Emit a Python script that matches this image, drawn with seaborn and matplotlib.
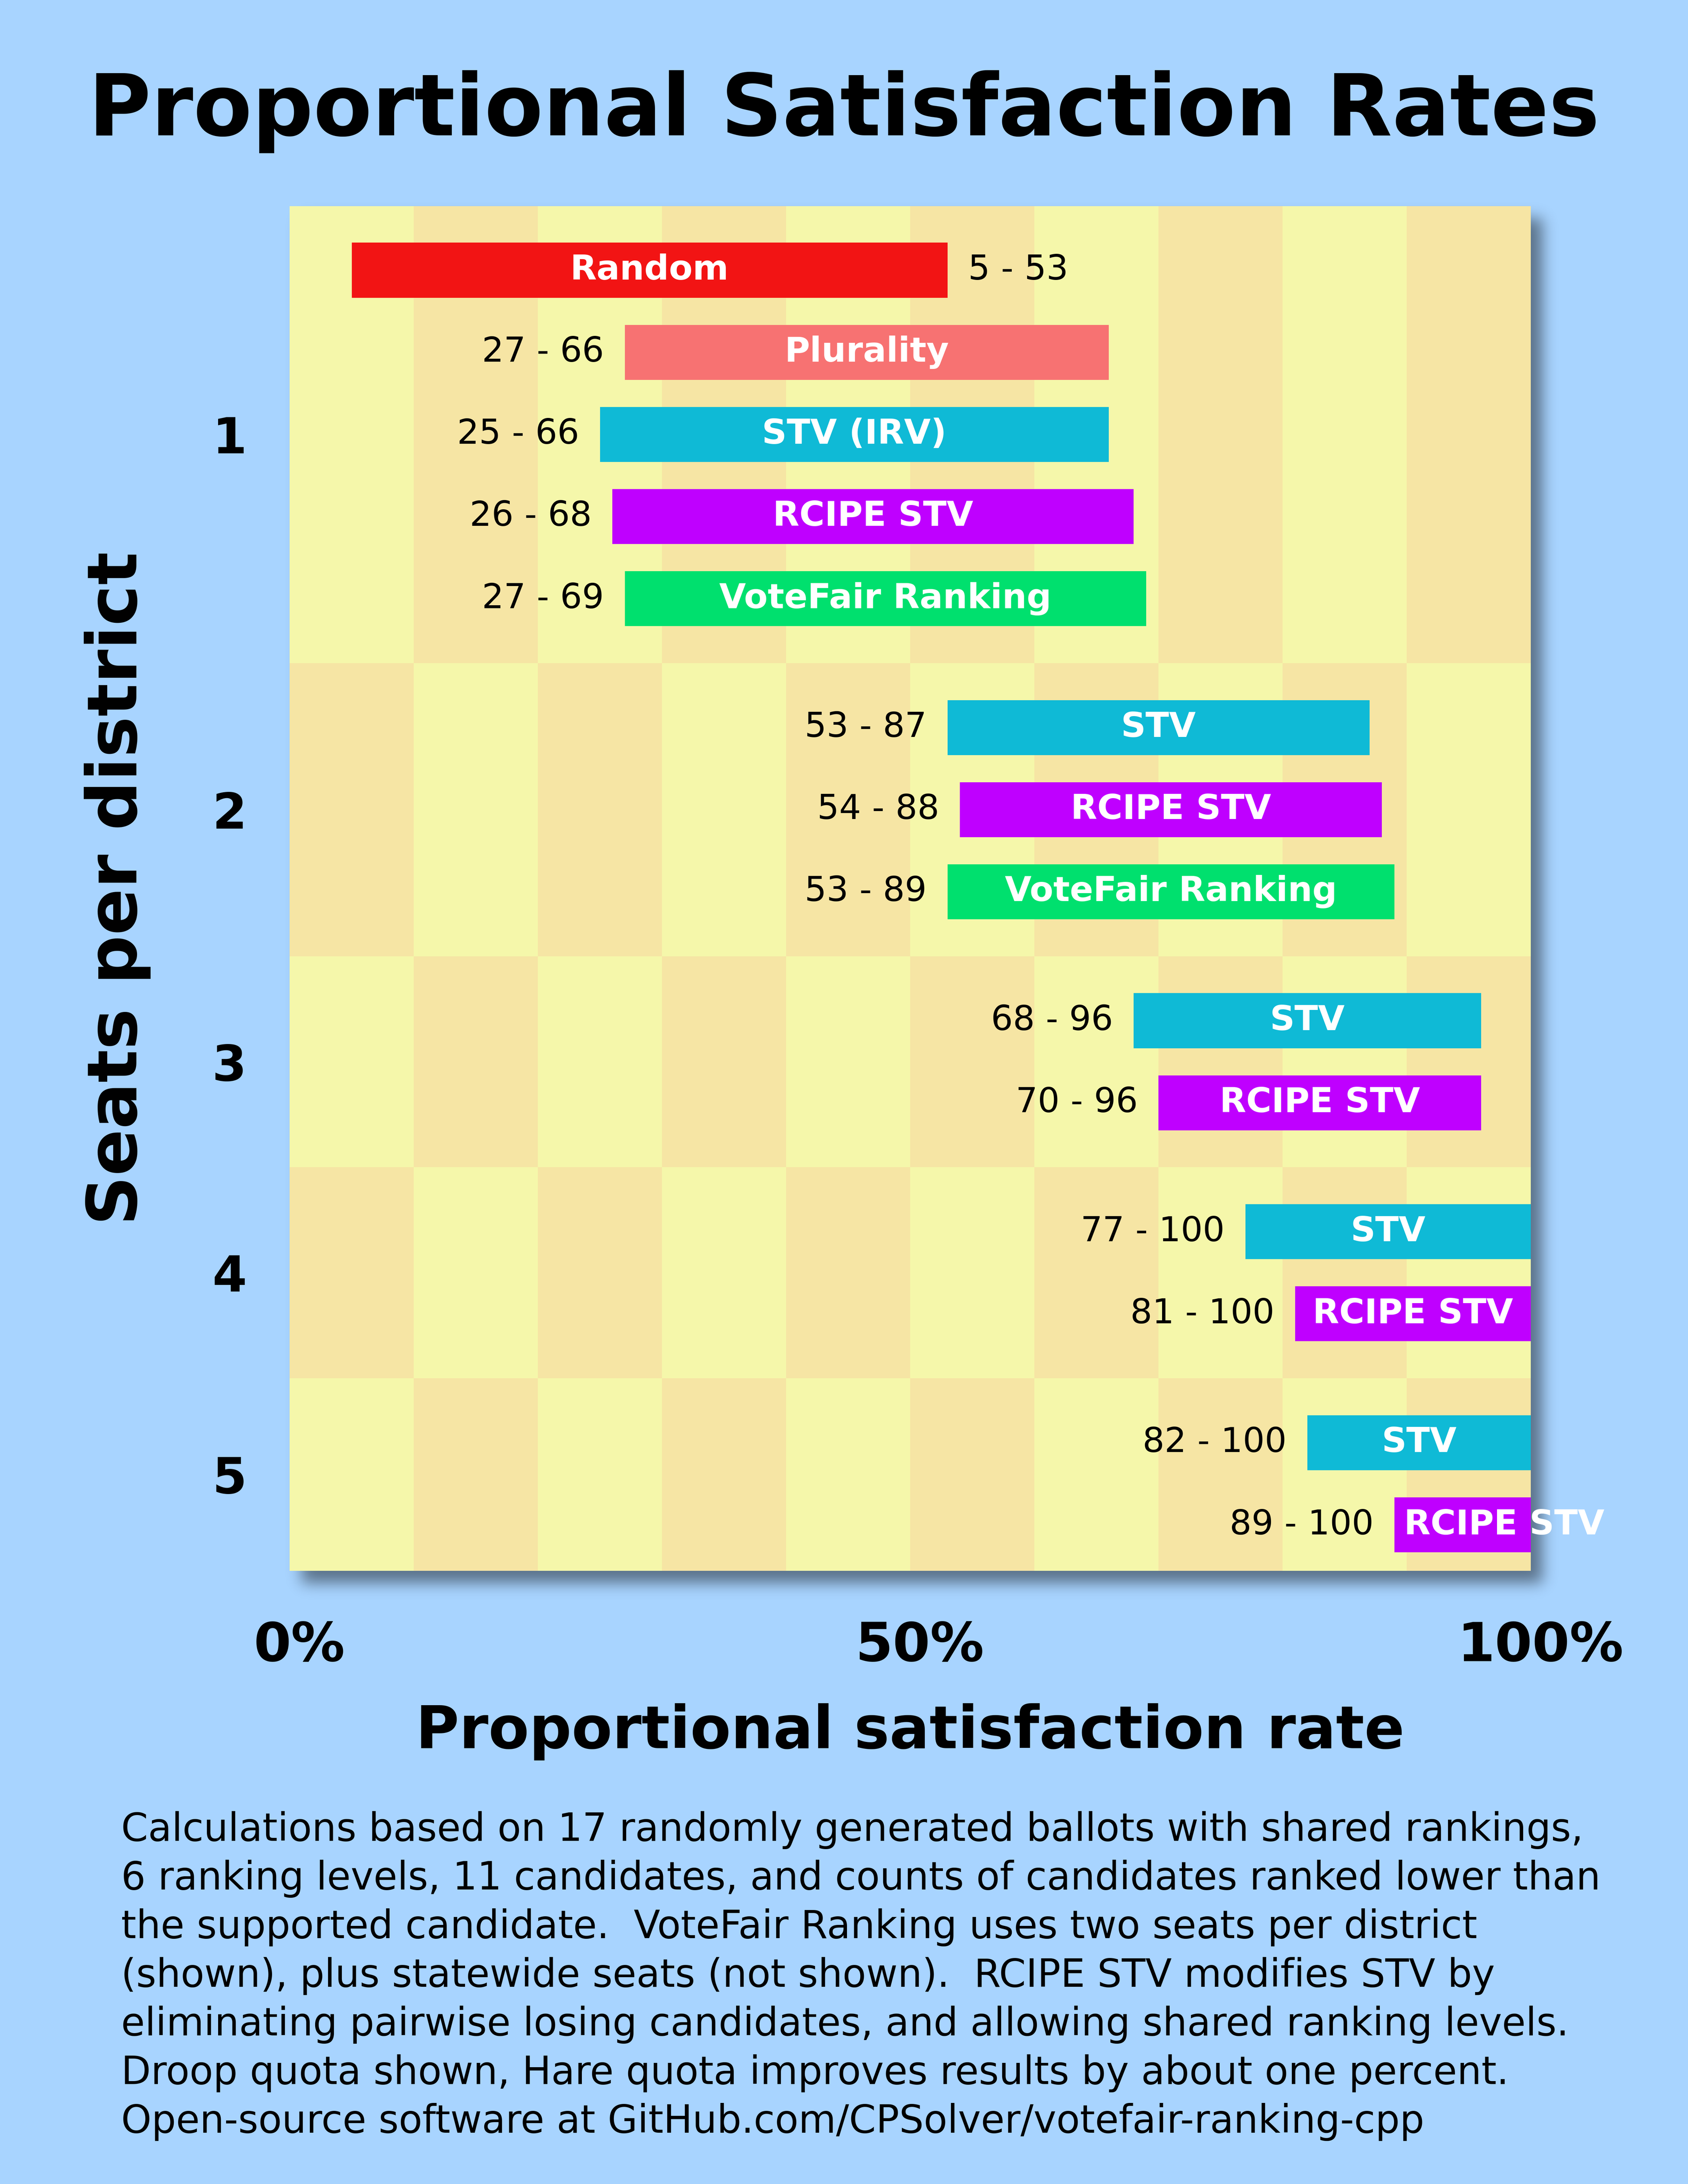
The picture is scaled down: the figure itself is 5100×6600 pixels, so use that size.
import numpy as np
import pandas as pd
import seaborn as sns
import matplotlib.pyplot as plt
from matplotlib.colors import ListedColormap
from matplotlib.transforms import ScaledTranslation

# values
seats = [1, 1, 1, 1, 1, 2, 2, 2, 3, 3, 4, 4, 5, 5]
methods = ["Random", "Plurality", "STV (IRV)", "RCIPE STV", "VoteFair Ranking",
           "STV", "RCIPE STV", "VoteFair Ranking",
           "STV", "RCIPE STV",
           "STV", "RCIPE STV",
           "STV", "RCIPE STV"]
low = [5, 27, 25, 26, 27, 53, 54, 53, 68, 70, 77, 81, 82, 89]
high = [53, 66, 66, 68, 69, 87, 88, 89, 96, 96, 100, 100, 100, 100]

seat_labels = ["1", "2", "3", "4", "5"]
x_ticks = [0, 50, 100]
x_tick_labels = ["0%", "50%", "100%"]

method_colors = {
    "Random": "#F21414",
    "Plurality": "#F77272",
    "STV (IRV)": "#0FBAD6",
    "STV": "#0FBAD6",
    "RCIPE STV": "#BF00FF",
    "VoteFair Ranking": "#00E06E",
}

title = "Proportional Satisfaction Rates"
x_label = "Proportional satisfaction rate"
y_label = "Seats per district"
note_lines = [
    "Calculations based on 17 randomly generated ballots with shared rankings,",
    "6 ranking levels, 11 candidates, and counts of candidates ranked lower than",
    "the supported candidate.  VoteFair Ranking uses two seats per district",
    "(shown), plus statewide seats (not shown).  RCIPE STV modifies STV by",
    "eliminating pairwise losing candidates, and allowing shared ranking levels.",
    "Droop quota shown, Hare quota improves results by about one percent.",
    "Open-source software at GitHub.com/CPSolver/votefair-ranking-cpp",
]

BLUE = "#A8D4FF"
LIGHT = "#F5F7AA"
TAN = "#F6E5A4"

sns.set_theme(style="white")
plt.rcParams['font.family'] = ['DejaVu Sans']
plt.rcParams['text.color'] = 'black'
plt.rcParams['xtick.color'] = 'black'
plt.rcParams['ytick.color'] = 'black'

df = pd.DataFrame({"seats": seats, "method": methods, "low": low, "high": high})

# vertical slots: one unit between bars of a district, wider gap between districts
TOP_PAD, STEP, GAP, BOTTOM_PAD = 0.78, 1.0, 1.57, 0.56
ypos = []
y = TOP_PAD
prev = None
for s in df["seats"]:
    if prev is not None:
        y += STEP if s == prev else GAP
    ypos.append(y)
    prev = s
df["y"] = ypos
y_max = ypos[-1] + BOTTOM_PAD

g = df.groupby("seats")["y"].agg(["min", "max"])
edges = np.concatenate([[0], (g["max"].values[:-1] + g["min"].values[1:]) / 2, [y_max]])
centers = (edges[:-1] + edges[1:]) / 2

W, H = 5100, 6600
fig = plt.figure(figsize=(17, 22), dpi=300, facecolor=BLUE)
ax_box = [875 / W, 1 - 4747 / H, 3750 / W, 4124 / H]
ax = fig.add_axes(ax_box)

# drop shadow behind the plot box
f = 4
sh = np.zeros((H // f, W // f))
dx = dy = 38
x0 = int((ax_box[0] * W + dx) / f)
x1 = int(((ax_box[0] + ax_box[2]) * W + dx) / f)
y0 = int(((1 - ax_box[1] - ax_box[3]) * H + dy) / f)
y1 = int(((1 - ax_box[1]) * H + dy) / f)
sh[y0:y1, x0:x1] = 1
sigma = 22 / f
k = np.arange(-int(3 * sigma), int(3 * sigma) + 1)
kern = np.exp(-k ** 2 / (2 * sigma ** 2))
kern /= kern.sum()
sh = np.apply_along_axis(lambda r: np.convolve(r, kern, mode='same'), 0, sh)
sh = np.apply_along_axis(lambda r: np.convolve(r, kern, mode='same'), 1, sh)
rgba = np.zeros(sh.shape + (4,))
rgba[..., 3] = 0.46 * sh
bg = fig.add_axes([0, 0, 1, 1], zorder=-1)
bg.imshow(rgba, extent=[0, 1, 0, 1], aspect='auto', interpolation='bilinear')
bg.axis('off')
bg.patch.set_visible(False)

# checkerboard background
checks = np.add.outer(np.arange(len(seat_labels)), np.arange(10)) % 2
ax.pcolormesh(np.arange(0, 101, 10), edges, checks,
              cmap=ListedColormap([LIGHT, TAN]), shading='flat', zorder=0)

ax.barh(df["y"], df["high"] - df["low"], left=df["low"], height=0.67,
        color=[method_colors[m] for m in df["method"]],
        edgecolor='none', linewidth=0, zorder=2)

name_texts = []
for row in df.itertuples():
    t = ax.annotate(row.method, xy=((row.low + row.high) / 2, row.y),
                    xytext=(0, 0), textcoords='offset points',
                    ha='center', va='center', color='white',
                    fontsize=25, fontweight='bold', zorder=3)
    name_texts.append(t)
    rng = f"{row.low} - {row.high}"
    if row.low < 10:
        ax.annotate(rng, xy=(row.high, row.y), xytext=(15, 0),
                    textcoords='offset points', ha='left', va='center',
                    fontsize=25, color='black', zorder=3)
    else:
        ax.annotate(rng, xy=(row.low, row.y), xytext=(-15, 0),
                    textcoords='offset points', ha='right', va='center',
                    fontsize=25, color='black', zorder=3)

ax.set_xlim(0, 100)
ax.set_ylim(y_max, 0)
ax.set_yticks(centers, seat_labels, fontsize=36, fontweight='bold', color='black')
ax.set_xticks(x_ticks, x_tick_labels, fontsize=39, fontweight='bold', color='black')
ax.tick_params(axis='y', length=0, pad=31)
ax.tick_params(axis='x', length=0, pad=36)
for lab in ax.get_xticklabels():
    lab.set_transform(lab.get_transform() + ScaledTranslation(7 / 72, 0, fig.dpi_scale_trans))
ax.set_xlabel("")
ax.set_ylabel("")
sns.despine(ax=ax, left=True, bottom=True)
ax.grid(False)

fig.text(0.5, 1 - 409 / H, title, ha='center', va='baseline',
         fontsize=62, fontweight='bold', color='black')
fig.text(ax_box[0] + ax_box[2] / 2, 1 - 5283 / H, x_label, ha='center',
         va='baseline', fontsize=43, fontweight='bold', color='black')
fig.text(355 / W, ax_box[1] + ax_box[3] / 2, y_label, rotation=90,
         ha='center', va='center', fontsize=50, fontweight='bold', color='black')

for i, line in enumerate(note_lines):
    fig.text(366 / W, 1 - (5563 + 147 * i) / H, line, ha='left',
             va='baseline', fontsize=28, color='black')

# labels wider than their bar start at the bar's left end instead
fig.canvas.draw()
r = fig.canvas.get_renderer()
for t, row in zip(name_texts, df.itertuples()):
    bb = t.get_window_extent(r)
    px0 = ax.transData.transform((row.low, row.y))[0]
    px1 = ax.transData.transform((row.high, row.y))[0]
    if bb.width > px1 - px0:
        t.xy = (row.low, row.y)
        t.set_horizontalalignment('left')
        t.xyann = (7, 0)

fig.savefig("out.png", dpi=300, facecolor=BLUE)
